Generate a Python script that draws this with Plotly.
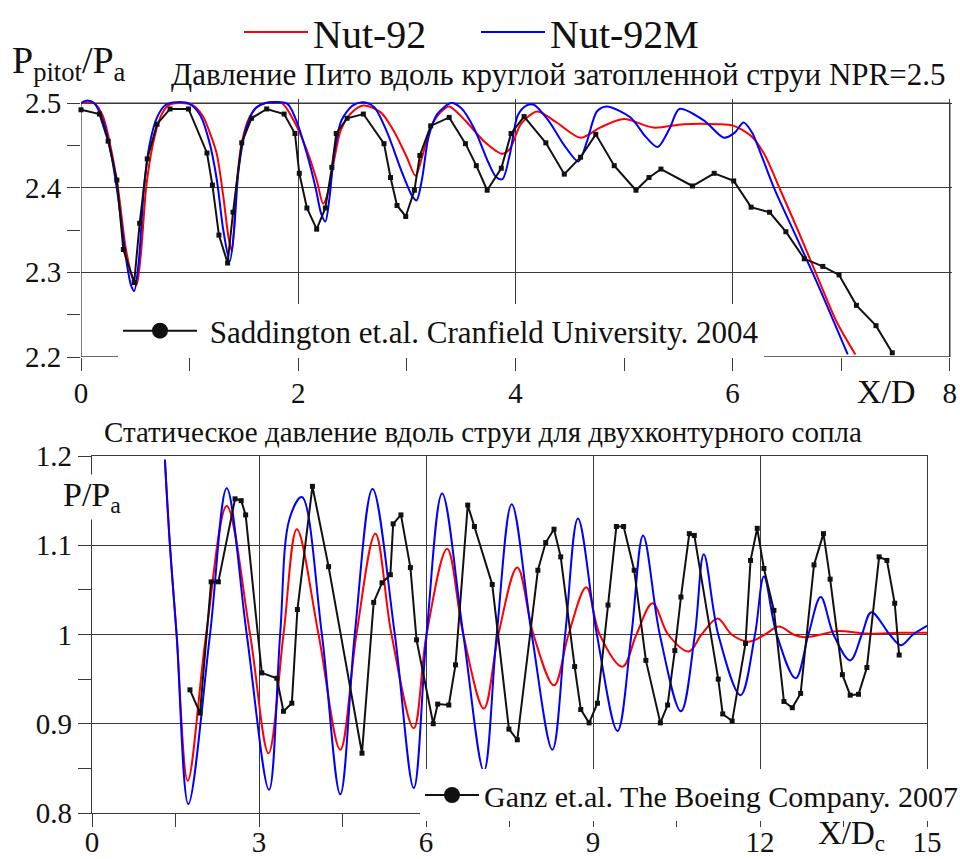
import plotly.graph_objects as go

# ---------------- Pitot pressure along a round submerged jet (NPR = 2.5) ----------------
exp_top_x = [0.00, 0.17, 0.25, 0.33, 0.39, 0.49, 0.54, 0.61, 0.70, 0.82, 0.99, 1.16, 1.21, 1.27,
             1.35, 1.40, 1.48, 1.57, 1.71, 1.87, 1.97, 2.01, 2.08, 2.17, 2.25, 2.31, 2.35, 2.45,
             2.60, 2.79, 2.85, 2.91, 2.99, 3.07, 3.12, 3.22, 3.39, 3.54, 3.64, 3.74, 3.87, 3.96,
             4.08, 4.28, 4.45, 4.60, 4.74, 4.91, 5.11, 5.23, 5.34, 5.63, 5.83, 6.01, 6.17, 6.34,
             6.49, 6.66, 6.83, 6.98, 7.14, 7.32, 7.47]
exp_top_y = [2.492, 2.487, 2.455, 2.409, 2.327, 2.288, 2.358, 2.434, 2.475, 2.493, 2.493, 2.441,
             2.403, 2.344, 2.311, 2.371, 2.453, 2.482, 2.493, 2.487, 2.464, 2.417, 2.376, 2.351,
             2.376, 2.424, 2.464, 2.482, 2.487, 2.452, 2.412, 2.379, 2.366, 2.397, 2.438, 2.473,
             2.483, 2.452, 2.426, 2.397, 2.423, 2.464, 2.484, 2.453, 2.416, 2.436, 2.463, 2.426,
             2.397, 2.412, 2.422, 2.402, 2.417, 2.408, 2.377, 2.371, 2.348, 2.316, 2.307, 2.297,
             2.261, 2.237, 2.205]

nut92_top_x = [0.00, 0.12, 0.20, 0.27, 0.34, 0.41, 0.47, 0.51, 0.55, 0.60, 0.66, 0.73, 0.80, 0.90,
               1.02, 1.12, 1.20, 1.25, 1.31, 1.36, 1.39, 1.43, 1.48, 1.55, 1.62, 1.70, 1.85, 1.96,
               2.08, 2.17, 2.23, 2.28, 2.33, 2.39, 2.48, 2.60, 2.76, 2.88, 3.00, 3.08, 3.14, 3.22,
               3.31, 3.39, 3.54, 3.71, 3.88, 3.95, 4.05, 4.20, 4.38, 4.60, 4.78, 5.00, 5.27, 5.55,
               5.86, 6.01, 6.17, 6.29, 6.44, 6.60, 6.78, 6.96, 7.13]
nut92_top_y = [2.500, 2.500, 2.485, 2.450, 2.400, 2.330, 2.295, 2.285, 2.320, 2.400, 2.450, 2.483,
               2.497, 2.500, 2.498, 2.485, 2.460, 2.440, 2.390, 2.340, 2.325, 2.400, 2.453, 2.483,
               2.495, 2.500, 2.500, 2.479, 2.444, 2.409, 2.381, 2.397, 2.432, 2.467, 2.487, 2.497,
               2.489, 2.467, 2.436, 2.414, 2.436, 2.471, 2.489, 2.496, 2.479, 2.455, 2.440, 2.446,
               2.475, 2.490, 2.477, 2.459, 2.471, 2.481, 2.471, 2.475, 2.475, 2.473, 2.461, 2.440,
               2.397, 2.350, 2.295, 2.241, 2.203]

nut92m_top_x = [0.00, 0.06, 0.12, 0.20, 0.27, 0.34, 0.41, 0.46, 0.49, 0.53, 0.58, 0.63, 0.70, 0.78,
                0.88, 1.00, 1.10, 1.18, 1.25, 1.31, 1.37, 1.41, 1.45, 1.52, 1.60, 1.70, 1.90, 1.98,
                2.08, 2.16, 2.21, 2.25, 2.29, 2.33, 2.40, 2.50, 2.60, 2.70, 2.82, 2.95, 3.05, 3.09,
                3.14, 3.20, 3.28, 3.41, 3.50, 3.62, 3.75, 3.82, 3.88, 3.95, 4.02, 4.10, 4.17, 4.30,
                4.45, 4.58, 4.66, 4.75, 4.84, 5.06, 5.20, 5.31, 5.42, 5.51, 5.74, 5.92, 6.02, 6.10,
                6.18, 6.26, 6.38, 6.60, 6.78, 7.06]
nut92m_top_y = [2.500, 2.503, 2.500, 2.480, 2.445, 2.390, 2.320, 2.285, 2.278, 2.310, 2.400, 2.450,
                2.483, 2.498, 2.501, 2.499, 2.485, 2.455, 2.410, 2.350, 2.313, 2.350, 2.420, 2.470,
                2.493, 2.500, 2.499, 2.480, 2.440, 2.400, 2.370, 2.360, 2.390, 2.440, 2.480, 2.497,
                2.501, 2.495, 2.465, 2.420, 2.390, 2.385, 2.410, 2.460, 2.487, 2.500, 2.494, 2.470,
                2.430, 2.413, 2.410, 2.440, 2.485, 2.497, 2.498, 2.480, 2.450, 2.431, 2.455, 2.490,
                2.496, 2.483, 2.460, 2.448, 2.470, 2.493, 2.479, 2.459, 2.465, 2.477, 2.465, 2.440,
                2.400, 2.338, 2.287, 2.203]

# ---------------- Static pressure along a dual-stream nozzle jet ----------------
exp_bot_x = [1.76, 1.94, 2.14, 2.27, 2.57, 2.68, 2.76, 3.05, 3.32, 3.44, 3.59, 3.69, 3.96, 4.25,
             4.85, 5.06, 5.21, 5.36, 5.41, 5.55, 5.72, 5.83, 6.13, 6.21, 6.41, 6.53, 6.75, 6.87,
             7.19, 7.49, 7.64, 8.01, 8.15, 8.30, 8.42, 8.67, 8.78, 8.93, 9.08, 9.27, 9.42, 9.55,
             9.74, 9.95, 10.21, 10.34, 10.47, 10.58, 10.73, 10.82, 11.25, 11.33, 11.50, 11.74,
             11.83, 11.95, 12.07, 12.25, 12.43, 12.58, 12.73, 12.97, 13.14, 13.26, 13.48, 13.62,
             13.77, 13.92, 14.14, 14.28, 14.42, 14.50]
exp_bot_y = [0.938, 0.912, 1.059, 1.059, 1.152, 1.150, 1.134, 0.957, 0.951, 0.914, 0.923, 1.028,
             1.166, 1.076, 0.867, 1.036, 1.058, 1.067, 1.124, 1.134, 1.075, 0.994, 0.900, 0.922,
             0.921, 0.966, 1.145, 1.121, 1.056, 0.894, 0.882, 1.072, 1.103, 1.118, 1.087, 0.964,
             0.916, 0.901, 0.923, 1.033, 1.121, 1.121, 1.072, 0.971, 0.901, 0.921, 0.982, 1.042,
             1.113, 1.111, 0.950, 0.911, 0.903, 0.990, 1.083, 1.119, 1.074, 1.027, 0.925, 0.918,
             0.934, 1.078, 1.113, 1.062, 0.955, 0.932, 0.933, 0.963, 1.087, 1.083, 1.035, 0.977]

nut92_bot_x = [1.31, 1.40, 1.52, 1.72, 2.05, 2.42, 2.84, 3.17, 3.44, 3.68, 4.07, 4.46, 4.75, 5.09,
               5.38, 5.78, 6.01, 6.38, 6.67, 7.04, 7.30, 7.64, 7.93, 8.30, 8.56, 8.88, 9.12, 9.53,
               9.78, 10.07, 10.35, 10.72, 10.95, 11.24, 11.49, 11.80, 12.09, 12.34, 12.60, 12.79,
               13.10, 13.39, 13.93, 14.50, 15.00]
nut92_bot_y = [1.194, 1.100, 1.000, 0.836, 1.000, 1.144, 1.000, 0.867, 1.000, 1.118, 1.000, 0.871,
               1.000, 1.113, 1.000, 0.895, 1.000, 1.096, 1.000, 0.917, 1.000, 1.075, 1.000, 0.943,
               1.000, 1.053, 1.000, 0.964, 1.000, 1.035, 1.000, 0.981, 1.000, 1.018, 1.000, 0.992,
               1.000, 1.009, 1.000, 0.997, 1.000, 1.004, 1.001, 1.002, 1.002]

nut92m_bot_x = [1.31, 1.40, 1.52, 1.73, 2.12, 2.42, 2.78, 3.18, 3.38, 3.55, 3.77, 4.13, 4.46, 4.72,
                5.04, 5.44, 5.78, 6.01, 6.29, 6.67, 7.04, 7.27, 7.54, 7.90, 8.27, 8.50, 8.73, 9.07,
                9.44, 9.69, 9.90, 10.20, 10.58, 10.83, 10.99, 11.25, 11.65, 11.91, 12.07, 12.30,
                12.64, 12.87, 13.09, 13.32, 13.62, 13.83, 14.00, 14.33, 14.53, 14.75, 15.01]
nut92m_bot_y = [1.196, 1.100, 1.000, 0.810, 1.000, 1.164, 1.000, 0.826, 1.000, 1.130, 1.154, 1.000,
                0.821, 1.000, 1.163, 1.000, 0.828, 1.000, 1.158, 1.000, 0.847, 1.000, 1.146, 1.000,
                0.871, 1.000, 1.130, 1.000, 0.892, 1.000, 1.111, 1.000, 0.914, 1.000, 1.090, 1.000,
                0.932, 1.000, 1.065, 1.000, 0.951, 1.000, 1.042, 1.000, 0.971, 1.000, 1.025, 1.000,
                0.988, 1.000, 1.010]

top_ytick_vals = [2.2, 2.3, 2.4, 2.5]
top_ytick_text = ["2.2", "2.3", "2.4", "2.5"]
top_xtick_vals = [0, 2, 4, 6, 8]
bot_ytick_vals = [0.8, 0.9, 1.0, 1.1, 1.2]
bot_ytick_text = ["0.8", "0.9", "1", "1.1", "1.2"]
bot_xtick_vals = [0, 3, 6, 9, 12, 15]

FONT = "Times New Roman, Liberation Serif, DejaVu Serif, serif"
INK = "#111111"
GRID = "#3a3a3a"
RED = "#ff0000"
BLUE = "#0000ff"
NBSP = "\u00a0"

fig = go.Figure()

# --- top panel ---
fig.add_trace(go.Scatter(x=nut92_top_x, y=nut92_top_y, mode="lines", name="Nut-92",
                         line=dict(color=RED, width=2, shape="spline", smoothing=0.8),
                         xaxis="x", yaxis="y", legend="legend"))
fig.add_trace(go.Scatter(x=nut92m_top_x, y=nut92m_top_y, mode="lines", name="Nut-92M",
                         line=dict(color=BLUE, width=2, shape="spline", smoothing=0.8),
                         xaxis="x", yaxis="y", legend="legend4"))
fig.add_trace(go.Scatter(x=exp_top_x, y=exp_top_y, mode="lines+markers", showlegend=False,
                         line=dict(color=INK, width=2), cliponaxis=False,
                         marker=dict(symbol="square", size=5, color=INK),
                         xaxis="x", yaxis="y"))
fig.add_trace(go.Scatter(x=[None], y=[None], mode="lines+markers",
                         name=NBSP + "Saddington et.al. Cranfield University. 2004",
                         line=dict(color=INK, width=2),
                         marker=dict(symbol="circle", size=16, color=INK),
                         xaxis="x", yaxis="y", legend="legend2"))

# --- bottom panel ---
fig.add_trace(go.Scatter(x=nut92_bot_x, y=nut92_bot_y, mode="lines", showlegend=False,
                         line=dict(color=RED, width=2, shape="spline", smoothing=1.0),
                         xaxis="x2", yaxis="y2"))
fig.add_trace(go.Scatter(x=nut92m_bot_x, y=nut92m_bot_y, mode="lines", showlegend=False,
                         line=dict(color=BLUE, width=2, shape="spline", smoothing=1.0),
                         xaxis="x2", yaxis="y2"))
fig.add_trace(go.Scatter(x=exp_bot_x, y=exp_bot_y, mode="lines+markers", showlegend=False,
                         line=dict(color=INK, width=2),
                         marker=dict(symbol="square", size=5, color=INK),
                         xaxis="x2", yaxis="y2"))
fig.add_trace(go.Scatter(x=[None], y=[None], mode="lines+markers",
                         name="Ganz et.al. The Boeing Company. 2007",
                         line=dict(color=INK, width=2),
                         marker=dict(symbol="circle", size=16, color=INK),
                         xaxis="x2", yaxis="y2", legend="legend3"))

W, H = 960, 859


def px_x(p):
    return p / W


def px_y(p):
    return 1 - p / H


tick_font = dict(family=FONT, size=29, color=INK)

axis_common = dict(ticks="outside", ticklen=13, tickwidth=1.3, tickcolor=GRID,
                   showgrid=True, gridcolor=GRID, gridwidth=1.3, zeroline=False,
                   tickfont=tick_font, fixedrange=True, automargin=False)

model_legend = dict(orientation="h", xanchor="left", yanchor="middle",
                    bgcolor="rgba(0,0,0,0)", itemwidth=64,
                    font=dict(family=FONT, size=40, color=INK))

fig.update_layout(
    width=W, height=H,
    margin=dict(l=0, r=0, t=0, b=0, pad=0, autoexpand=False),
    paper_bgcolor="white", plot_bgcolor="white",
    font=dict(family=FONT, color=INK),
    xaxis=dict(axis_common, domain=[px_x(81), px_x(952)], range=[0, 8.02],
               tickvals=top_xtick_vals, anchor="y", showline=False,
               minor=dict(dtick=1, tick0=0, ticks="outside", ticklen=13, tickcolor=GRID,
                          showgrid=False),
               ticklabelstandoff=-3),
    yaxis=dict(axis_common, domain=[px_y(357), px_y(98.8)], range=[2.2, 2.505],
               tickvals=top_ytick_vals, ticktext=top_ytick_text, anchor="x", showline=False,
               minor=dict(dtick=0.05, tick0=2.2, ticks="outside", ticklen=13, tickcolor=GRID,
                          showgrid=False)),
    xaxis2=dict(axis_common, domain=[px_x(92), px_x(927)], range=[0, 15],
                tickvals=bot_xtick_vals, anchor="y2", showline=True, mirror=True,
                linecolor=GRID, linewidth=1.3,
                minor=dict(dtick=1.5, tick0=0, ticks="outside", ticklen=13, tickcolor=GRID,
                           showgrid=False),
                ticklabelstandoff=-10),
    yaxis2=dict(axis_common, domain=[px_y(813), px_y(456)], range=[0.8, 1.2],
                tickvals=bot_ytick_vals, ticktext=bot_ytick_text, anchor="x2",
                showline=True, mirror=True, linecolor=GRID, linewidth=1.3,
                minor=dict(dtick=0.05, tick0=0.8, ticks="outside", ticklen=13, tickcolor=GRID,
                           showgrid=False)),
    legend=dict(model_legend, x=px_x(239), y=px_y(32)),
    legend4=dict(model_legend, x=px_x(476), y=px_y(32)),
    legend2=dict(x=px_x(118), y=px_y(331), xanchor="left", yanchor="middle",
                 bgcolor="white", itemwidth=74,
                 font=dict(family=FONT, size=31, color=INK)),
    legend3=dict(x=px_x(420), y=px_y(795), xanchor="left", yanchor="middle",
                 bgcolor="white", itemwidth=54,
                 font=dict(family=FONT, size=30, color=INK)),
    shapes=[dict(type="rect", xref="x", yref="y", x0=0, x1=8, y0=2.2, y1=2.5,
                 line=dict(color=GRID, width=1.3), layer="between")],
    annotations=[
        dict(text="P<sub>pitot</sub>/P<sub>a</sub>", x=px_x(10), y=px_y(63), xref="paper",
             yref="paper", xanchor="left", yanchor="middle", showarrow=False,
             font=dict(family=FONT, size=38, color=INK)),
        dict(text="Давление Пито вдоль круглой затопленной струи NPR=2.5", x=px_x(558),
             y=px_y(75), xref="paper", yref="paper", xanchor="center", yanchor="middle",
             showarrow=False, font=dict(family=FONT, size=31, color=INK)),
        dict(text="X/D", x=px_x(886), y=px_y(392), xref="paper", yref="paper",
             xanchor="center", yanchor="middle", showarrow=False,
             font=dict(family=FONT, size=34, color=INK)),
        dict(text="Статическое давление вдоль струи для двухконтурного сопла", x=px_x(483),
             y=px_y(432), xref="paper", yref="paper", xanchor="center", yanchor="middle",
             showarrow=False, font=dict(family=FONT, size=29, color=INK)),
        dict(text="P/P<sub>a</sub>", x=px_x(92), y=px_y(497), xref="paper", yref="paper",
             xanchor="center", yanchor="middle", showarrow=False, bgcolor="white",
             font=dict(family=FONT, size=34, color=INK)),
        dict(text="X/D<sub>c</sub>", x=px_x(851), y=px_y(835), xref="paper", yref="paper",
             xanchor="center", yanchor="middle", showarrow=False,
             font=dict(family=FONT, size=33, color=INK)),
    ],
)

fig.write_html("out.html")
